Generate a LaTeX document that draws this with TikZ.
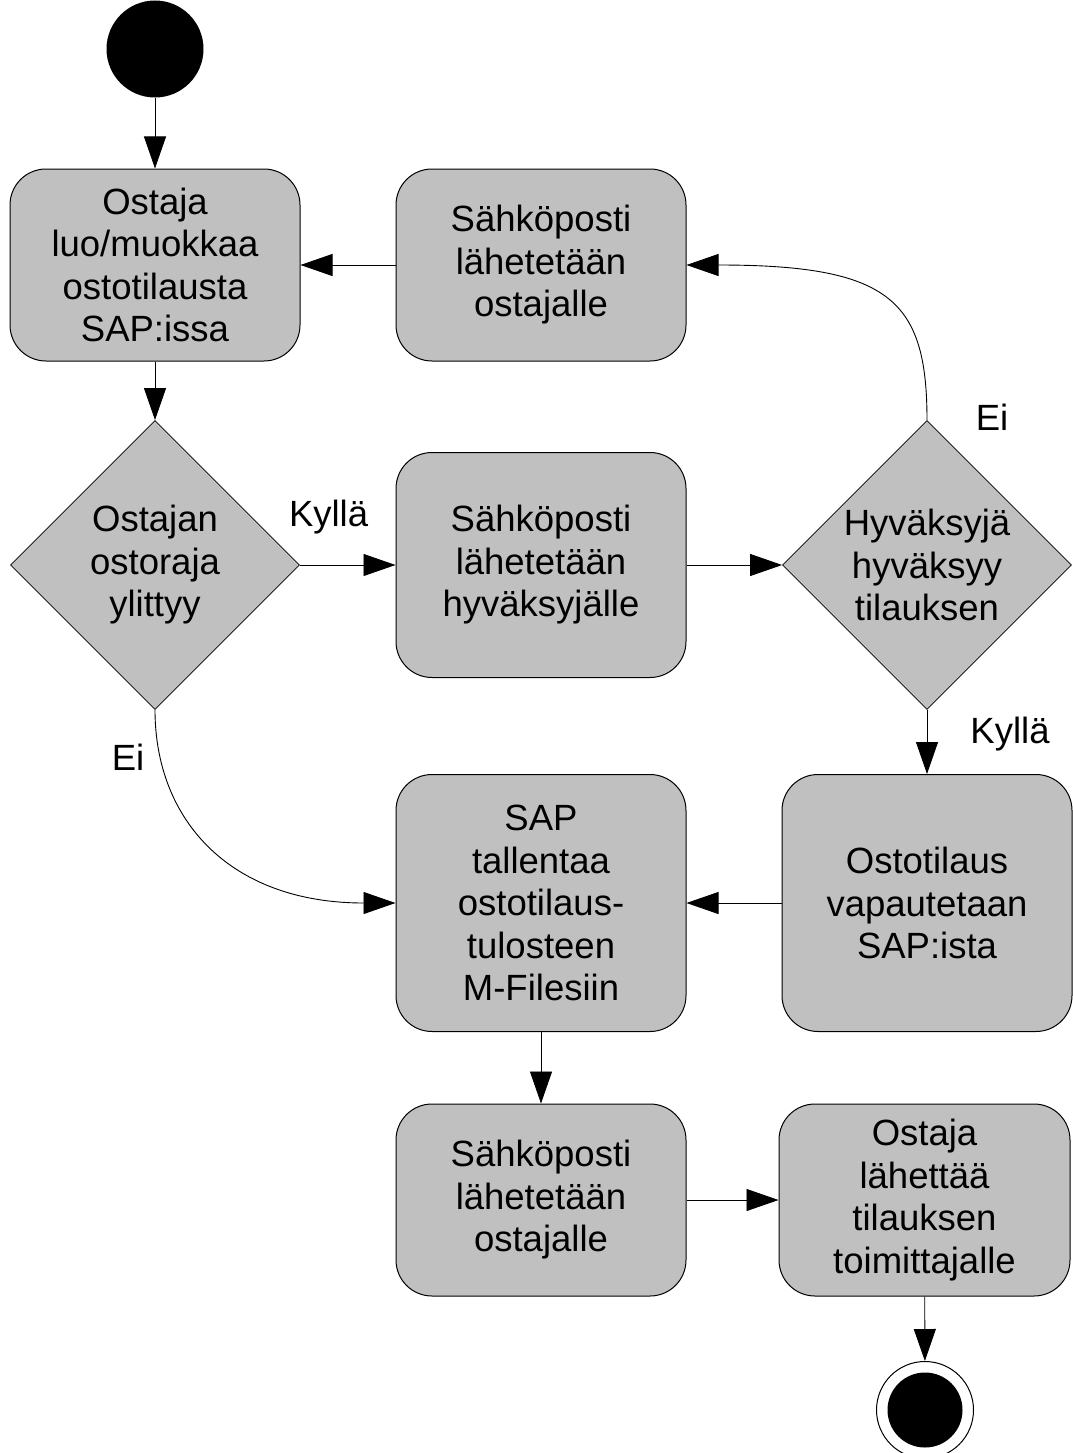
\documentclass[tikz,border=0pt]{standalone}
\usepackage{fontspec}
\setmainfont{Liberation Sans}
\usetikzlibrary{shapes.geometric,arrows.meta}
\begin{document}
\begin{tikzpicture}[x=1pt,y=-1pt,
  every node/.style={font=\fontsize{36.5}{42.5}\selectfont},
  act/.style={draw=black, line width=1pt, fill=actgray, rectangle, rounded corners=36pt,
    minimum width=290pt, inner sep=0pt, align=center},
  dec/.style={draw=black, line width=0.8pt, fill=actgray, diamond, aspect=1,
    minimum width=289pt, minimum height=289pt, inner sep=0pt, align=center},
  arr/.style={line width=0.9pt, -{Triangle[length=32pt,width=22pt]}},
  lbl/.style={inner sep=0pt}
]
\definecolor{actgray}{RGB}{192,192,192}
\useasboundingbox (0,0) rectangle (1072,1453);
\fill[white] (0,0) rectangle (1072,1453);

\node[circle, fill=black, minimum size=97pt, inner sep=0pt] (start) at (155,49) {};

\node[act, minimum height=192pt] (b1) at (155,265) {Ostaja\\luo/muokkaa\\ostotilausta\\SAP:issa};
\node[act, minimum height=192pt] (b2) at (541,265) {Sähköposti\\lähetetään\\ostajalle};
\node[dec] (d1) at (155,565) {Ostajan\\ostoraja\\ylittyy};
\node[act, minimum height=225pt] (b3) at (541,565) {Sähköposti\\lähetetään\\hyväksyjälle};
\node[dec] (d2) at (927,565) {Hyväksyjä\\hyväksyy\\tilauksen};
\node[act, minimum height=257pt] (b4) at (541,903) {SAP\\tallentaa\\ostotilaus-\\tulosteen\\M-Filesiin};
\node[act, minimum height=257pt] (b5) at (927,903) {Ostotilaus\\vapautetaan\\SAP:ista};
\node[act, minimum height=192pt] (b6) at (541,1200) {Sähköposti\\lähetetään\\ostajalle};
\node[act, minimum height=192pt, minimum width=291pt] (b7) at (924.5,1200) {Ostaja\\lähettää\\tilauksen\\toimittajalle};

\node[circle, draw=black, line width=1pt, fill=white, minimum size=97pt, inner sep=0pt] (end) at (925,1410) {};
\node[circle, fill=black, minimum size=75pt, inner sep=0pt] (endin) at (end) {};

\draw[arr] (start) -- (b1);
\draw[arr] (b2) -- (b1);
\draw[arr] (b1) -- (d1);
\draw[arr] (d1.east) -- (b3.west) node[lbl, pos=0.3, above=30pt] (l1) {Kyllä};
\draw[arr] (b3.east) -- (d2.west);
\draw[arr] (d2.north) .. controls (927,300) and (890,265) .. (b2.east);
\draw[arr] (d2.south) -- (b5.north);
\draw[arr] (d1.south) .. controls (155,820) and (230,903) .. (b4.west);
\draw[arr] (b5.west) -- (b4.east);
\draw[arr] (b4) -- (b6);
\draw[arr] (b6) -- (b7);
\draw[arr] (b7) -- (end);

\node[lbl] (l2) at (992,417) {Ei};
\node[lbl] (l3) at (1010,734) {Kyllä};
\node[lbl] (l4) at (128,757) {Ei};
\end{tikzpicture}
\end{document}
